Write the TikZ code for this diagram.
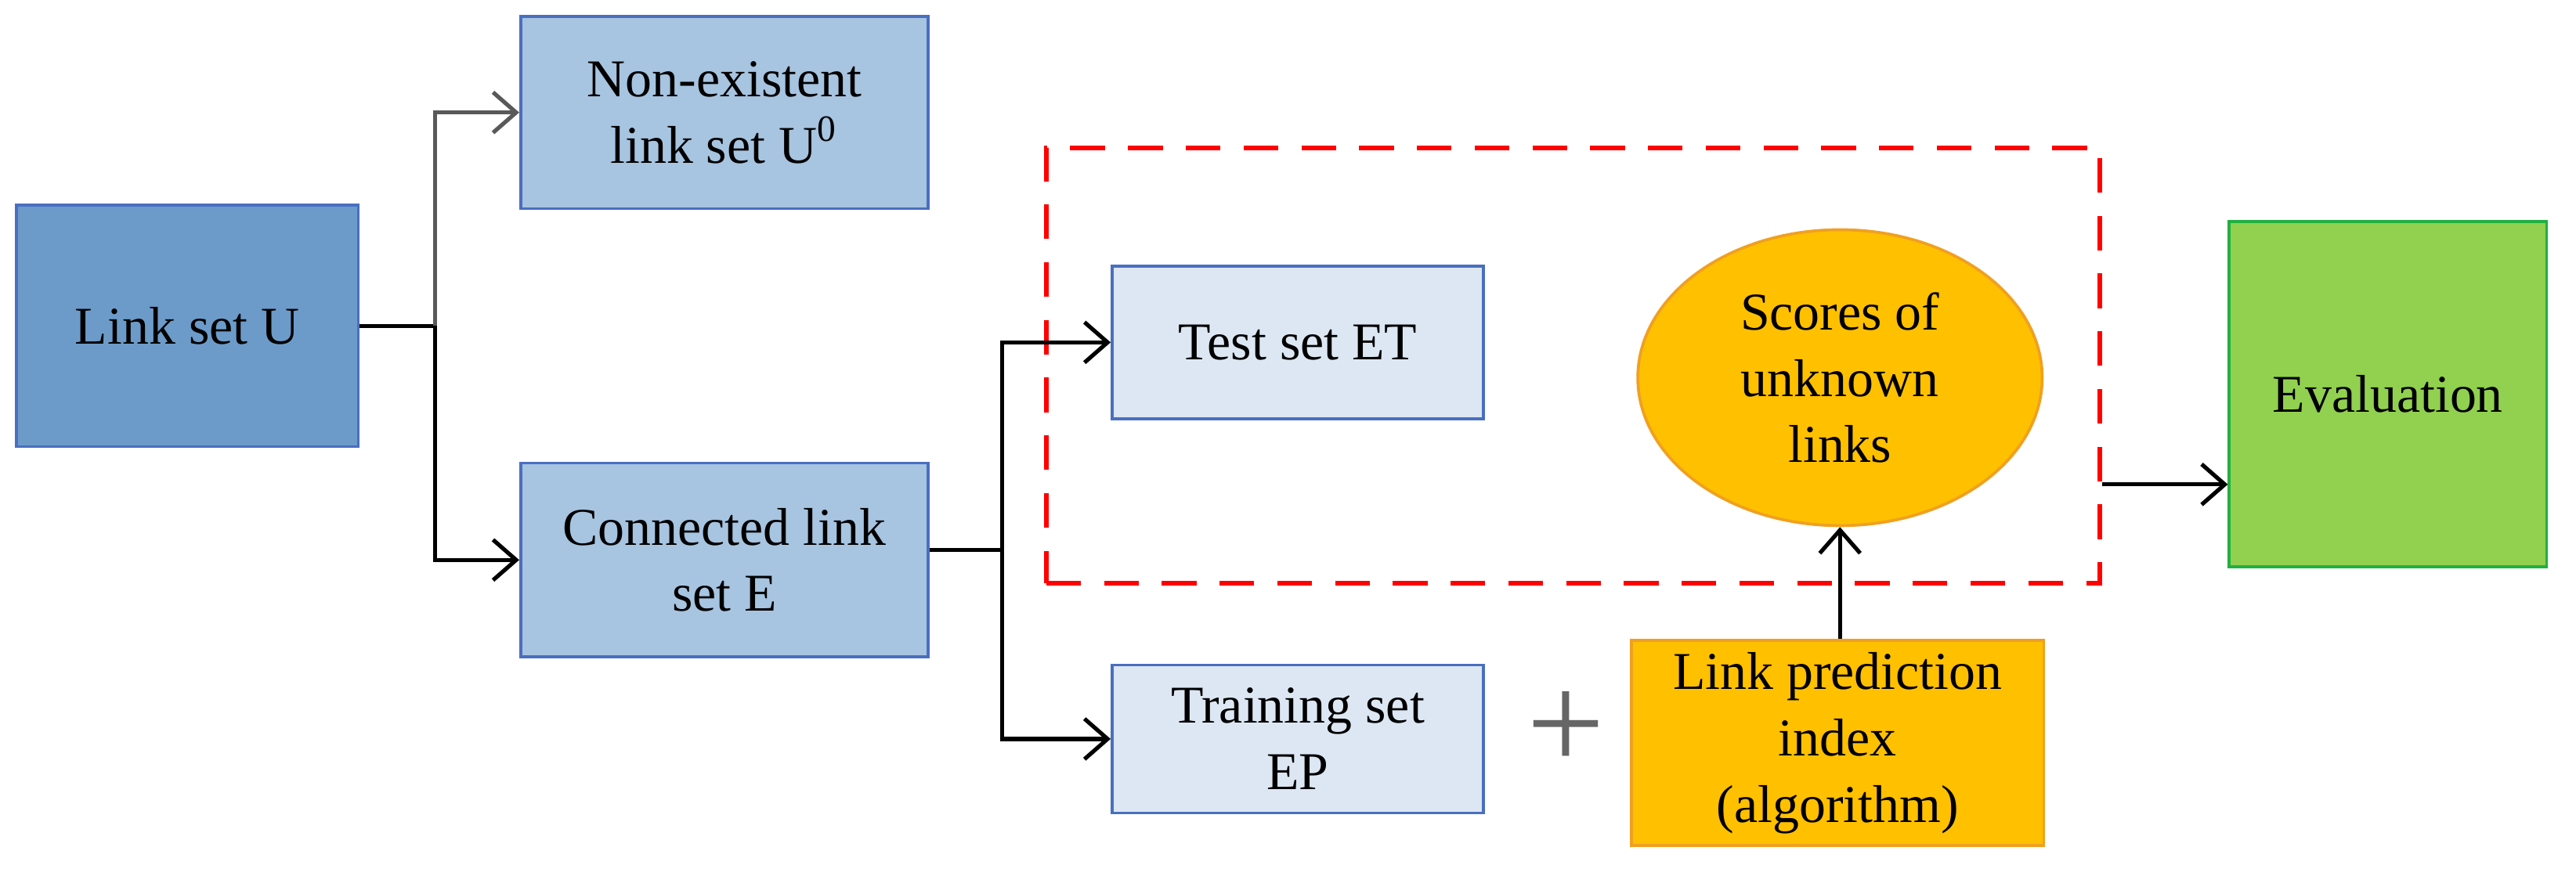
\documentclass[tikz,border=0pt]{standalone}
\usepackage{fontspec}
\setmainfont{Liberation Serif}
\usetikzlibrary{positioning}
\usetikzlibrary{shapes}
\usetikzlibrary{arrows.meta}
\definecolor{boxBlue}{HTML}{6C9BC9}
\definecolor{midBlue}{HTML}{A7C4E0}
\definecolor{lightBlue}{HTML}{DCE7F3}
\definecolor{lineBlue}{HTML}{4A6FC0}
\definecolor{orangeFill}{HTML}{FFC000}
\definecolor{orangeLine}{HTML}{F0A020}
\definecolor{greenFill}{HTML}{92D050}
\definecolor{greenLine}{HTML}{20B040}
\tikzset{
	box/.style={rectangle, draw=lineBlue, line width=0.5pt, align=center, inner sep=1pt},
	arr/.style={-{Straight Barb[length=4pt,width=7pt]}, line width=0.7pt}
}
\begin{document}
\begin{tikzpicture}[x=0.01cm, y=-0.01cm, font=\fontsize{9.2}{11.5}\selectfont]
		\useasboundingbox (0,0) rectangle (1568,533);
		\node[box, fill=boxBlue, minimum width=2.08cm, minimum height=1.47cm](linkU) at (114,198.5){Link set U};
		\node[box, fill=midBlue, minimum width=2.48cm, minimum height=1.17cm](nonExist) at (441,68.5){Non-existent\\link set U\textsuperscript{0}};
		\node[box, fill=midBlue, minimum width=2.48cm, minimum height=1.18cm](connE) at (441,341){Connected link\\set E};
		\node[box, fill=lightBlue, minimum width=2.26cm, minimum height=0.93cm](testET) at (790,208.5){Test set ET};
		\node[box, fill=lightBlue, minimum width=2.26cm, minimum height=0.90cm](trainEP) at (790,450){Training set\\EP};
		\node[ellipse, draw=orangeLine, fill=orangeFill, line width=0.5pt, minimum width=2.46cm, minimum height=1.80cm, align=center](scores) at (1120,230){Scores of\\unknown\\links};
		\node[box, draw=orangeLine, fill=orangeFill, minimum width=2.51cm, minimum height=1.25cm](lpIndex) at (1118.5,452.5){Link prediction\\index\\(algorithm)};
		\node[box, draw=greenLine, fill=greenFill, minimum width=1.93cm, minimum height=2.10cm](evalBox) at (1453.5,240){Evaluation};
		\node[rectangle, draw=red, line width=0.8pt, dash pattern=on 6pt off 4pt, minimum width=6.41cm, minimum height=2.65cm](dashBox) at (957.5,222.5){};
		\node[font=\fontsize{24}{24}\selectfont, text=gray!80!black](plusSign) at (953,445){+};

		% branch coordinates
		\coordinate (splitU) at (265,198.5);
		\coordinate (splitE) at (610,335);

		% draw split edges
		\draw[line width=0.7pt] (linkU.east) -- (splitU);
		\draw[arr, draw=gray!70!black] (splitU) |- (nonExist.west);
		\draw[arr] (splitU) |- (connE.west);
		\draw[line width=0.7pt] (connE.east |- splitE) -- (splitE);
		\draw[arr] (splitE) |- (testET.west);
		\draw[arr] (splitE) |- (trainEP.west);

		% draw result edges
		\draw[arr] (scores.south |- lpIndex.north) -- (scores.south);
		\draw[arr] (dashBox.east |- 0,295) -- (evalBox.west |- 0,295);
	\end{tikzpicture}
\end{document}
